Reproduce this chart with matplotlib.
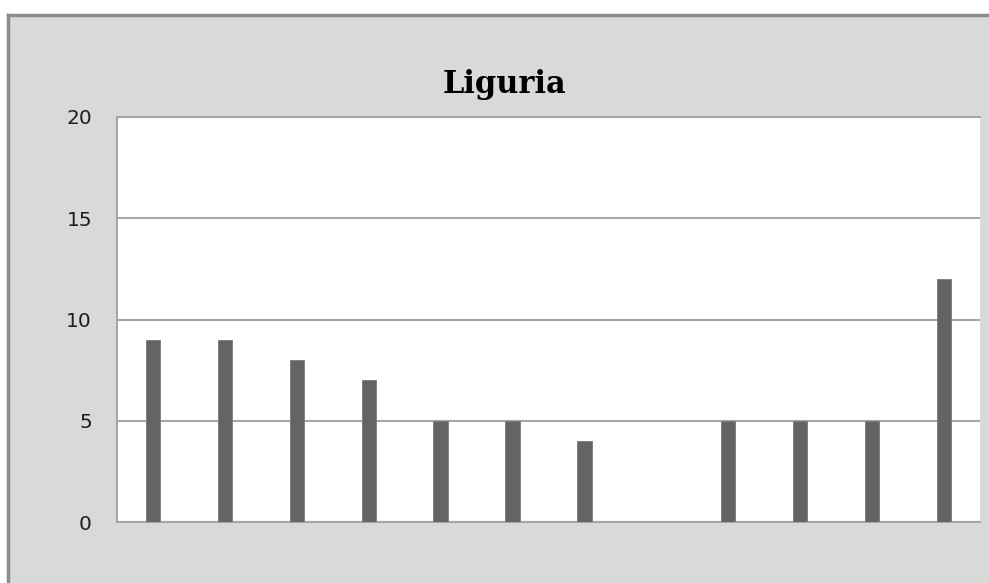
import matplotlib.pyplot as plt
from matplotlib.patches import Rectangle

categories = list(range(1, 13))
values = [9, 9, 8, 7, 5, 5, 4, 0, 5, 5, 5, 12]
yticks = [0, 5, 10, 15, 20]

W, H = 989, 583
fig = plt.figure(figsize=(W / 100, H / 100), dpi=100, facecolor='white')

# gray chart area with a dark border on top and left
bg = Rectangle((8 / W, 0), 1 - 8 / W, 1 - 15 / H, transform=fig.transFigure,
               facecolor='#d9d9d9', edgecolor='none', zorder=-5)
fig.patches.append(bg)
fig.add_artist(plt.Line2D([8 / W, 1], [1 - 15 / H, 1 - 15 / H], transform=fig.transFigure,
                          color='#8c8c8c', lw=2.5, zorder=-4))
fig.add_artist(plt.Line2D([8 / W, 8 / W], [0, 1 - 15 / H], transform=fig.transFigure,
                          color='#8c8c8c', lw=2.5, zorder=-4))

left, right, top, bottom = 117, 980, 117, 522
ax = fig.add_axes([left / W, 1 - bottom / H, (right - left) / W, (bottom - top) / H])
ax.set_facecolor('white')

ax.bar(categories, values, width=0.2, color='#646464', edgecolor='#7a7a7a', linewidth=0.6, zorder=3)

ax.set_ylim(0, 20)
ax.set_xlim(0.5, 12.5)
ax.set_yticks(yticks)
ax.set_xticks([])
ax.yaxis.grid(True, color='#a6a6a6', linewidth=1.5)
ax.set_axisbelow(True)
ax.tick_params(axis='y', length=0, pad=18, labelsize=14.5, labelcolor='#1e1e1e')

ax.spines['right'].set_visible(False)
for s in ['top', 'left', 'bottom']:
    ax.spines[s].set_color('#a6a6a6')
    ax.spines[s].set_linewidth(1.5)

fig.text(505 / W, 1 - 84 / H, 'Liguria', ha='center', va='center',
         fontsize=22, fontweight='bold', family='DejaVu Serif')

fig.savefig('out.png', dpi=100, facecolor=fig.get_facecolor())
